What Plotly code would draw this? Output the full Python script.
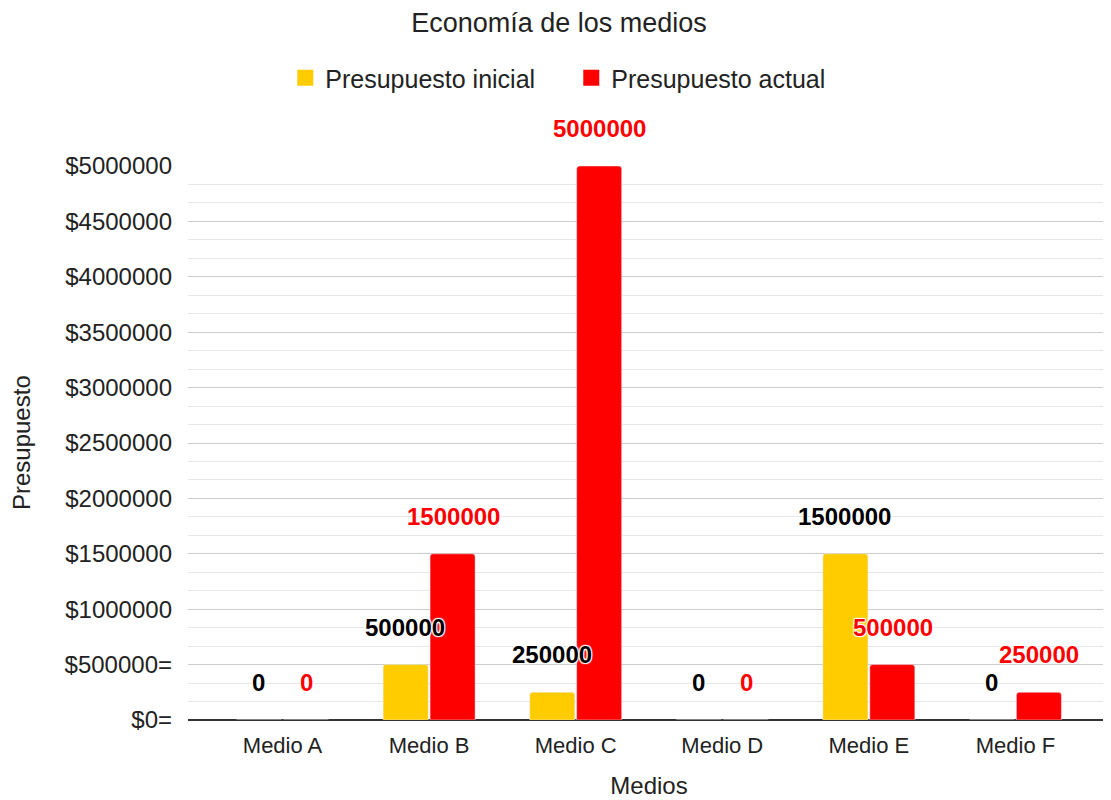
import plotly.graph_objects as go

medios = ["Medio A", "Medio B", "Medio C", "Medio D", "Medio E", "Medio F"]
inicial = [0, 500000, 250000, 0, 1500000, 0]
actual = [0, 1500000, 5000000, 0, 500000, 250000]

tick_vals = [0, 500000, 1000000, 1500000, 2000000, 2500000,
             3000000, 3500000, 4000000, 4500000, 5000000]
tick_text = ["$0=", "$500000=", "$1000000", "$1500000", "$2000000", "$2500000",
             "$3000000", "$3500000", "$4000000", "$4500000", "$5000000"]

YELLOW = "#ffcc00"
RED = "#ff0000"
FONT = "Arial, Liberation Sans, sans-serif"
INK = "#222222"

fig = go.Figure()
fig.add_trace(go.Bar(x=medios, y=inicial, name="Presupuesto inicial",
                     marker_color=YELLOW, hoverinfo="x+y", showlegend=False))
fig.add_trace(go.Bar(x=medios, y=actual, name="Presupuesto actual",
                     marker_color=RED, hoverinfo="x+y", showlegend=False))

# legend entries with bigger square swatches
for name, color in [("Presupuesto inicial", YELLOW), ("Presupuesto actual", RED)]:
    fig.add_trace(go.Scatter(x=[None], y=[None], mode="markers", name=name,
                             marker=dict(symbol="square", size=16, color=color)))

# data labels sit a bit above each bar, with a white halo
halo = "1px 1px 1px white, -1px -1px 1px white, 1px -1px 1px white, -1px 1px 1px white"
for series, color, shift in [(inicial, "#000000", -24), (actual, RED, 24)]:
    for m, v in zip(medios, series):
        fig.add_annotation(x=m, y=v, text="<b>%d</b>" % v, showarrow=False,
                           xshift=shift, yshift=22, yanchor="bottom",
                           font=dict(family=FONT, size=24, color=color, shadow=halo))

# y axis title placed by hand, further out than standoff allows
fig.add_annotation(text="Presupuesto", xref="paper", yref="paper",
                   x=-0.1811, y=0.5, xanchor="center", yanchor="middle",
                   textangle=-90, showarrow=False,
                   font=dict(family=FONT, size=24, color=INK))

fig.update_layout(
    width=1111, height=800,
    margin=dict(l=180, r=9, t=158, b=88),
    paper_bgcolor="white", plot_bgcolor="white",
    font=dict(family=FONT, size=22, color=INK),
    title=dict(text="Economía de los medios", x=0.496, xref="container",
               y=1 - 15 / 800, yref="container", yanchor="middle",
               font=dict(size=27, color=INK)),
    legend=dict(orientation="h", x=0.507, xanchor="center", xref="container",
                y=1 - 70 / 800, yref="container", yanchor="middle",
                entrywidth=241, font=dict(size=25, color=INK)),
    barmode="group", bargap=0.36, bargroupgap=0.04, barcornerradius=3,
)

fig.update_xaxes(range=[-0.645, 5.645], showgrid=False, showline=False,
                 ticks="", ticklabelstandoff=10, automargin=False,
                 tickfont=dict(size=22),
                 title=dict(text="Medios", standoff=20, font=dict(size=24)))
fig.update_yaxes(range=[0, 5000000], tickvals=tick_vals, ticktext=tick_text,
                 showgrid=True, gridcolor="#cccccc", gridwidth=1,
                 minor=dict(dtick=500000 / 3, tick0=0, showgrid=True, gridcolor="#e6e6e6"),
                 zeroline=True, zerolinecolor="#333333", zerolinewidth=2,
                 showline=False, ticks="", ticklabelstandoff=15, automargin=False,
                 tickfont=dict(size=24))

fig.write_html("out.html")
